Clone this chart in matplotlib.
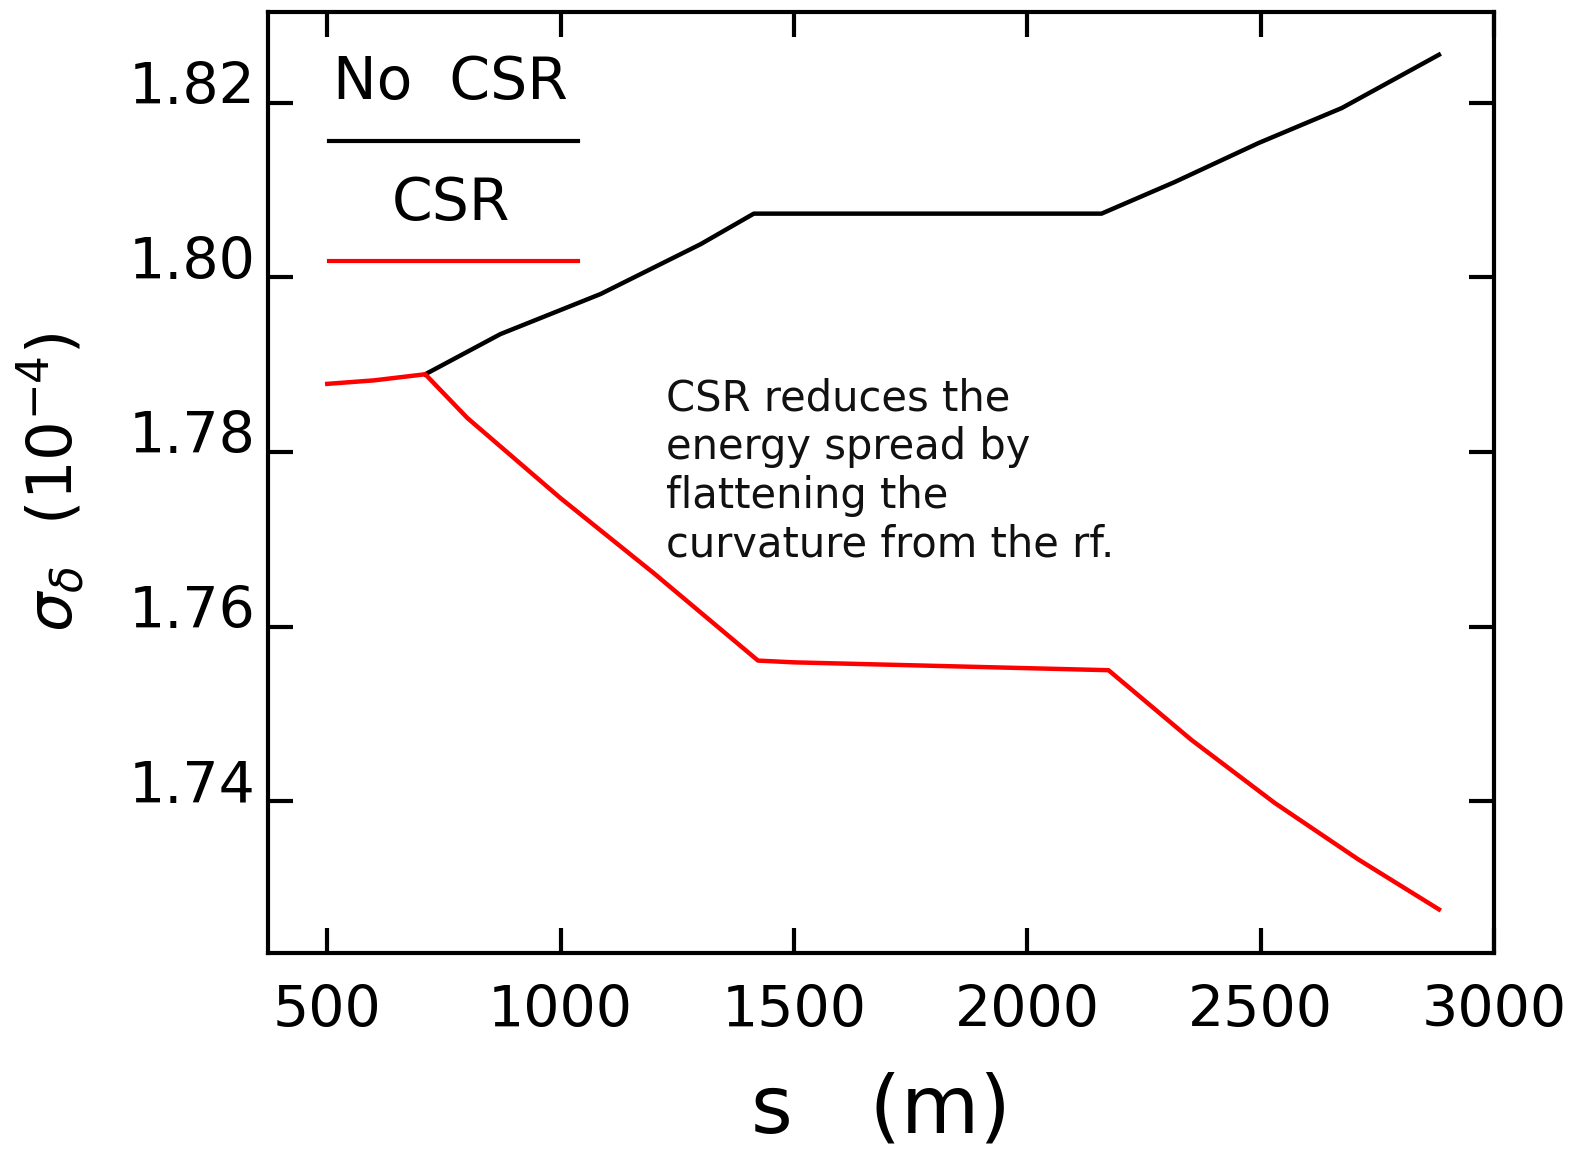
import numpy as np
import matplotlib as mpl
mpl.use('Agg')
import matplotlib.pyplot as plt
from matplotlib.transforms import ScaledTranslation

# values
s_nocsr = [710, 871, 1086, 1300, 1414, 1800, 2159, 2315, 2496, 2674, 2882]
sig_nocsr = [1.7889, 1.7935, 1.7981, 1.8038, 1.8073, 1.8073, 1.8073, 1.8109, 1.8154, 1.8194, 1.8255]

s_csr = [500, 600, 710, 800, 1000, 1200, 1423, 1500, 1800, 2174, 2352, 2530, 2710, 2882]
sig_csr = [1.7878, 1.7882, 1.7889, 1.7839, 1.7747, 1.7661, 1.7561, 1.7559, 1.7555, 1.7550, 1.7470, 1.7398, 1.7333, 1.7276]

xticks = [500, 1000, 1500, 2000, 2500, 3000]
yticks = [1.74, 1.76, 1.78, 1.80, 1.82]
note = "CSR reduces the\nenergy spread by\nflattening the\ncurvature from the rf."

fig = plt.figure(figsize=(15.69, 11.52), dpi=100)
ax = fig.add_axes([0.1708, 0.1727, 0.9522 - 0.1708, 0.9896 - 0.1727])

ax.plot(s_nocsr, sig_nocsr, color='black', lw=3.2, zorder=3)
ax.plot(s_csr, sig_csr, color='red', lw=3.2, zorder=3)

ax.set_xlim(373, 3000)
ax.set_ylim(1.7226, 1.8304)
ax.set_xticks(xticks)
ax.set_yticks(yticks)
ax.set_xticklabels([str(t) for t in xticks])
ax.set_yticklabels([f'{t:.2f}' for t in yticks])
ax.tick_params(direction='in', length=18, width=3, top=True, right=True,
               labelsize=41, pad=22)
ax.tick_params(axis='y', pad=9)
for sp in ax.spines.values():
    sp.set_linewidth(3)

# y tick labels sit a bit above their ticks in the original
shift = ScaledTranslation(0, 0.2, fig.dpi_scale_trans)
for lab in ax.get_yticklabels():
    lab.set_transform(lab.get_transform() + shift)

ax.set_xlabel('s   (m)', fontsize=58, labelpad=24)
ax.set_ylabel(r'$\sigma_\delta$  (10$^{-4}$)', fontsize=45, labelpad=30)

# legend drawn gnuplot style: label above sample line
ax.text(0.149, 0.925, 'No  CSR', transform=ax.transAxes, ha='center', va='center', fontsize=42)
ax.plot([0.05, 0.253], [0.863, 0.863], transform=ax.transAxes, color='black', lw=3)
ax.text(0.149, 0.797, 'CSR', transform=ax.transAxes, ha='center', va='center', fontsize=42)
ax.plot([0.05, 0.253], [0.735, 0.735], transform=ax.transAxes, color='red', lw=3)

ax.text(1225, 1.7885, note, fontsize=30, va='top', ha='left', linespacing=1.2, color='#111111')

fig.savefig('out.png', dpi=100)
